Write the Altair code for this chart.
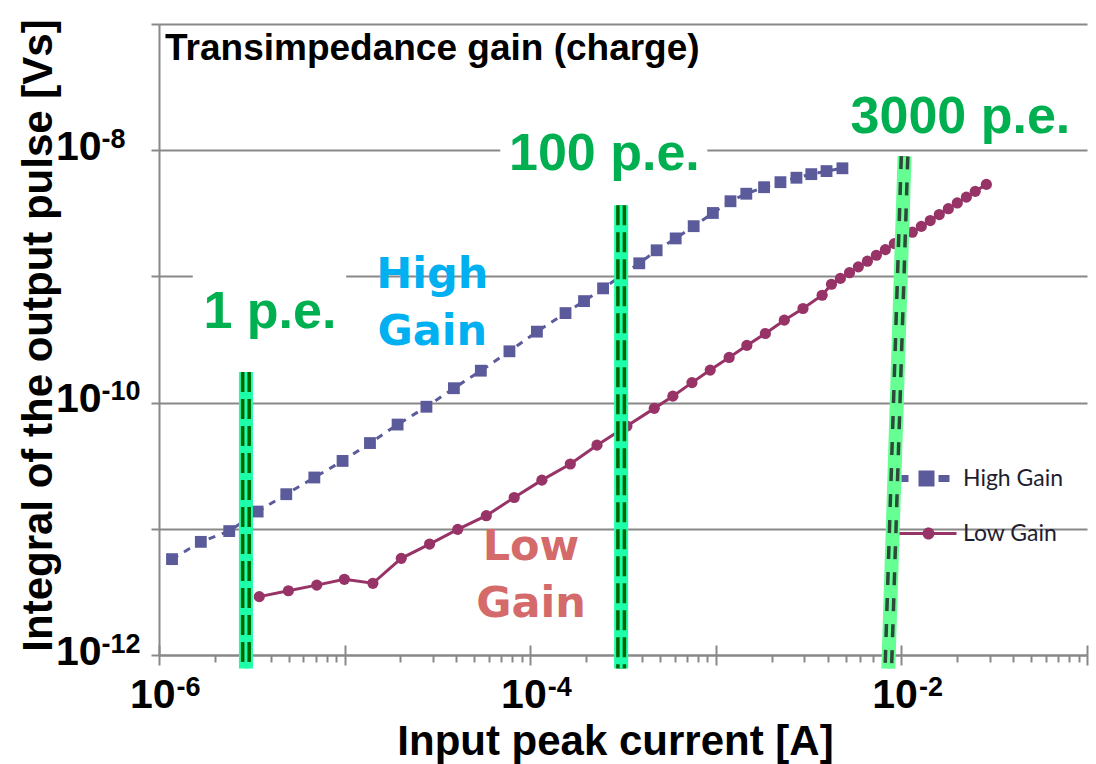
import altair as alt
import pandas as pd

# ---------------- data ----------------
hg_current = [1.175e-6, 1.68e-6, 2.39e-6, 3.40e-6, 4.85e-6, 6.87e-6, 9.75e-6,
              1.37e-5, 1.93e-5, 2.76e-5, 3.88e-5, 5.42e-5, 7.73e-5,
              1.087e-4, 1.55e-4, 1.95e-4, 2.47e-4, 3.10e-4, 3.87e-4, 4.80e-4,
              6.08e-4, 7.60e-4, 9.64e-4,
              1.20e-3, 1.46e-3, 1.82e-3, 2.23e-3, 2.72e-3, 3.27e-3, 3.95e-3, 4.81e-3]
hg_integral = [5.75e-12, 7.88e-12, 9.59e-12,
               1.37e-11, 1.88e-11, 2.55e-11, 3.45e-11, 4.78e-11, 6.70e-11, 9.27e-11,
               1.30e-10, 1.79e-10, 2.55e-10, 3.65e-10, 5.12e-10, 6.37e-10, 8.04e-10,
               1.01e-9, 1.27e-9, 1.61e-9, 2.00e-9, 2.50e-9, 3.18e-9, 3.94e-9,
               4.52e-9, 5.09e-9, 5.58e-9, 6.05e-9, 6.46e-9, 6.83e-9, 7.19e-9]

lg_current = [3.47e-6, 4.98e-6, 7.08e-6, 9.97e-6, 1.42e-5, 2.02e-5, 2.87e-5,
              4.07e-5, 5.80e-5, 8.20e-5, 1.156e-4, 1.645e-4, 2.29e-4, 3.32e-4,
              4.66e-4, 5.87e-4, 7.44e-4, 9.33e-4, 1.18e-3, 1.47e-3, 1.85e-3,
              2.34e-3, 2.95e-3, 3.74e-3, 4.20e-3, 4.69e-3, 5.25e-3, 5.86e-3,
              6.56e-3, 7.33e-3, 8.20e-3, 9.16e-3, 1.025e-2, 1.145e-2, 1.28e-2,
              1.43e-2, 1.60e-2, 1.79e-2, 2.00e-2, 2.24e-2, 2.50e-2, 2.87e-2]
lg_integral = [2.90e-12, 3.23e-12, 3.58e-12, 3.98e-12, 3.70e-12, 5.83e-12, 7.57e-12,
               9.90e-12, 1.27e-11, 1.77e-11, 2.43e-11, 3.26e-11, 4.60e-11, 6.52e-11,
               9.00e-11, 1.125e-10, 1.44e-10, 1.81e-10, 2.28e-10, 2.84e-10, 3.53e-10,
               4.50e-10, 5.57e-10, 7.09e-10, 8.67e-10, 9.64e-10, 1.07e-9, 1.19e-9,
               1.32e-9, 1.47e-9, 1.63e-9, 1.82e-9, 2.02e-9, 2.24e-9, 2.49e-9,
               2.77e-9, 3.09e-9, 3.44e-9, 3.82e-9, 4.25e-9, 4.72e-9, 5.36e-9]

series_names = ["High Gain", "Low Gain"]

band_labels = ["1 p.e.", "100 p.e.", "3000 p.e."]
band_x_top = [2.94e-6, 3.09e-4, 1.04e-2]
band_x_bottom = [2.94e-6, 3.09e-4, 8.5e-3]
band_y_top = [1.75e-10, 3.66e-9, 8.95e-9]
band_y_bottom = [7.8e-13, 7.8e-13, 7.8e-13]

pe_label_x = [3.96e-6, 2.51e-4, 2.08e-2]
pe_label_y = [3.89e-10, 6.95e-9, 1.36e-8]

box_x1 = [1.52e-6, 6.9e-5]
box_x2 = [1.02e-5, 9.0e-4]
box_y1 = [3.1e-10, 5.3e-9]
box_y2 = [1.06e-9, 1.49e-8]

gain_labels = ["High\nGain", "Low\nGain"]
gain_label_x = [2.97e-5, 1.01e-4]
gain_label_y = [8.07e-10, 5.65e-12]

chart_title = "Transimpedance gain (charge)"
x_title = "Input peak current [A]"
y_title = "Integral of the output pulse [Vs]"

x_ticks_major = [1e-6, 1e-5, 1e-4, 1e-3, 1e-2, 1e-1]
x_ticks_minor = [k * 10.0 ** e for e in range(-6, -1) for k in range(2, 10)]
x_tick_labels = [1e-6, 1e-4, 1e-2]
y_ticks = [1e-12, 1e-11, 1e-10, 1e-9, 1e-8, 1e-7]
y_tick_labels = [1e-12, 1e-10, 1e-8]

# ---------------- tables ----------------
df_hg = pd.DataFrame({"current": hg_current, "integral": hg_integral})
df_lg = pd.DataFrame({"current": lg_current, "integral": lg_integral})
df_bands = pd.DataFrame({"label": band_labels, "xt": band_x_top, "xb": band_x_bottom,
                         "yt": band_y_top, "yb": band_y_bottom})
df_pe = pd.DataFrame({"label": band_labels, "x": pe_label_x, "y": pe_label_y})
df_box = pd.DataFrame({"x1": box_x1, "x2": box_x2, "y1": box_y1, "y2": box_y2})
df_gain = pd.DataFrame({"label": gain_labels, "x": gain_label_x, "y": gain_label_y})
df_leg = pd.DataFrame({"series": series_names})

# ---------------- styles ----------------
ARIAL = "Liberation Sans"
AX = "#888888"
HG_COLOR = "#5b5b9b"
LG_COLOR = "#973366"

xs = alt.Scale(type="log", domain=[1e-6, 1e-1], nice=False)
ys = alt.Scale(type="log", domain=[1e-12, 1e-7], nice=False)

exp_expr = "'-' + abs(round(log(datum.value) / LN10))"

x_main = alt.Axis(orient="bottom", values=x_ticks_major, tickSize=10, tickWidth=2,
                  tickColor=AX, domainColor=AX, domainWidth=2, labels=False, grid=False,
                  title=x_title, titleFont=ARIAL, titleFontSize=42, titleFontWeight="bold",
                  titleColor="black", titleX=456, titleY=99, titleBaseline="alphabetic",
                  titleAlign="center")
x_minor = alt.Axis(orient="bottom", values=x_ticks_minor, tickSize=7, tickWidth=2,
                   tickColor=AX, domain=False, labels=False, grid=False, title=None)
x_up = alt.Axis(orient="top", offset=-631, values=x_ticks_major, tickSize=10, tickWidth=2,
                tickColor=AX, domain=False, labels=False, grid=False, title=None)
x_lab10 = alt.Axis(orient="bottom", values=x_tick_labels, ticks=False, domain=False, grid=False,
                   labelExpr="'10'", labelFont=ARIAL, labelFontSize=41, labelFontWeight="bold",
                   labelColor="black", labelAlign="right", labelBaseline="alphabetic",
                   labelPadding=52, labelOffset=16, labelFlush=False, labelOverlap=False,
                   title=None)
x_labexp = alt.Axis(orient="bottom", values=x_tick_labels, ticks=False, domain=False, grid=False,
                    labelExpr=exp_expr, labelFont=ARIAL, labelFontSize=27, labelFontWeight="bold",
                    labelColor="black", labelAlign="left", labelBaseline="alphabetic",
                    labelPadding=40, labelOffset=17, labelFlush=False, labelOverlap=False,
                    title=None)

y_main = alt.Axis(orient="left", values=y_ticks, tickSize=8, tickWidth=2, tickColor=AX,
                  domainColor=AX, domainWidth=2, grid=True, gridColor=AX, gridWidth=2,
                  labels=False, title=y_title, titleFont=ARIAL, titleFontSize=42,
                  titleFontWeight="bold", titleColor="black", titleX=-99, titleY=311,
                  titleAngle=270, titleBaseline="bottom", titleAlign="center")
y_lab10 = alt.Axis(orient="left", values=y_tick_labels, ticks=False, domain=False, grid=False,
                   labelExpr="'10'", labelFont=ARIAL, labelFontSize=41, labelFontWeight="bold",
                   labelColor="black", labelAlign="right", labelBaseline="alphabetic",
                   labelPadding=58, labelOffset=9, labelFlush=False, labelOverlap=False,
                   title=None)
y_labexp = alt.Axis(orient="left", values=y_tick_labels, ticks=False, domain=False, grid=False,
                    labelExpr=exp_expr, labelFont=ARIAL, labelFontSize=27, labelFontWeight="bold",
                    labelColor="black", labelAlign="left", labelBaseline="alphabetic",
                    labelPadding=58, labelOffset=-3, labelFlush=False, labelOverlap=False,
                    title=None)

# ---------------- layers ----------------
boxes = alt.Chart(df_box).mark_rect(color="white").encode(
    x=alt.X("x1:Q", scale=xs, axis=None), x2="x2:Q",
    y=alt.Y("y1:Q", scale=ys, axis=None), y2="y2:Q")

hg_line = alt.Chart(df_hg).mark_line(color=HG_COLOR, strokeWidth=3, strokeDash=[7, 7]).encode(
    x=alt.X("current:Q", scale=xs, axis=x_main),
    y=alt.Y("integral:Q", scale=ys, axis=y_main))
hg_pts = alt.Chart(df_hg).mark_point(shape="square", filled=True, size=140, opacity=1,
                                      color=HG_COLOR).encode(
    x=alt.X("current:Q", scale=xs, axis=x_minor),
    y=alt.Y("integral:Q", scale=ys, axis=y_lab10))

lg_line = alt.Chart(df_lg).mark_line(color=LG_COLOR, strokeWidth=3).encode(
    x=alt.X("current:Q", scale=xs, axis=x_up),
    y=alt.Y("integral:Q", scale=ys, axis=y_labexp))
lg_pts = alt.Chart(df_lg).mark_point(shape="circle", filled=True, size=125, opacity=1,
                                      color=LG_COLOR).encode(
    x=alt.X("current:Q", scale=xs, axis=x_lab10),
    y=alt.Y("integral:Q", scale=ys, axis=None))

band_stroke = alt.Stroke("label:N", scale=alt.Scale(domain=band_labels,
                         range=["#1dffa8", "#1dffa8", "#66ff94"]), legend=None)
band_enc = dict(x2="xb:Q", y=alt.Y("yt:Q", scale=ys, axis=None), y2="yb:Q")

band_base = alt.Chart(df_bands).mark_rule(strokeWidth=14).encode(
    x=alt.X("xt:Q", scale=xs, axis=x_labexp), stroke=band_stroke, **band_enc)
band_dash_a = alt.Chart(df_bands).transform_filter("datum.label != '3000 p.e.'").mark_rule(
    strokeWidth=10, color="#006400", strokeDash=[20, 7]).encode(
    x=alt.X("xt:Q", scale=xs, axis=None), **band_enc)
band_dash_b = alt.Chart(df_bands).transform_filter("datum.label == '3000 p.e.'").mark_rule(
    strokeWidth=10, color="#2d4a38", strokeDash=[13, 13]).encode(
    x=alt.X("xt:Q", scale=xs, axis=None), **band_enc)
band_mid = alt.Chart(df_bands).mark_rule(strokeWidth=3).encode(
    x=alt.X("xt:Q", scale=xs, axis=None), stroke=band_stroke, **band_enc)

pe_text = alt.Chart(df_pe).mark_text(font=ARIAL, fontSize=52, fontWeight="bold",
                                     color="#00b050", align="center",
                                     baseline="alphabetic").encode(
    x=alt.X("x:Q", scale=xs, axis=None), y=alt.Y("y:Q", scale=ys, axis=None),
    text="label:N")

gain_text = alt.Chart(df_gain).mark_text(font="DejaVu Sans", fontSize=43, fontWeight="bold",
                                         align="center", baseline="alphabetic",
                                         lineBreak="\n", lineHeight=57).encode(
    x=alt.X("x:Q", scale=xs, axis=None), y=alt.Y("y:Q", scale=ys, axis=None),
    text="label:N",
    fill=alt.Fill("label:N", scale=alt.Scale(domain=gain_labels,
                  range=["#00b0f0", "#d46a6a"]), legend=None))

PATH_HG = ("M-2.5,-0.35H-1.8V0.35H-2.5Z M-0.8,-0.8H0.8V0.8H-0.8Z "
           "M1.2,-0.35H2.3V0.35H1.2Z")
PATH_LG = ("M-2.7,-0.15H3.0V0.15H-2.7Z "
           "M-0.4,0A0.6,0.6,0,1,1,0.8,0A0.6,0.6,0,1,1,-0.4,0Z")

leg = alt.Legend(title=None, orient="none", legendX=756, legendY=443, symbolSize=400,
                 symbolStrokeWidth=0, symbolOpacity=1, labelFont="Lato", labelFontSize=23,
                 labelColor="#1e1e30", labelOffset=25, rowPadding=31, padding=0,
                 symbolOffset=0, labelLimit=300)
legend_layer = alt.Chart(df_leg).transform_filter("false").mark_point(
    filled=True, opacity=1).encode(
    color=alt.Color("series:N", scale=alt.Scale(domain=series_names,
                    range=[HG_COLOR, LG_COLOR]), legend=leg),
    shape=alt.Shape("series:N", scale=alt.Scale(domain=series_names,
                    range=[PATH_HG, PATH_LG]), legend=leg))

chart = alt.layer(
    boxes, hg_line, hg_pts, lg_line, lg_pts,
    band_base, band_dash_a, band_dash_b, band_mid,
    pe_text, gain_text, legend_layer
).resolve_axis(x="independent", y="independent").properties(
    width=928, height=631,
    padding={"left": 159, "top": 24, "right": 9, "bottom": 109},
    autosize=alt.AutoSizeParams(type="none"),
    title=alt.TitleParams(text=chart_title, anchor="start", frame="group", offset=0,
                          dx=6, dy=78, baseline="alphabetic", font=ARIAL, fontSize=37,
                          fontWeight="bold", color="black"),
    background="white",
).configure_view(strokeWidth=0)

chart.save("out.html", embed_options={"renderer": "svg", "actions": False})
